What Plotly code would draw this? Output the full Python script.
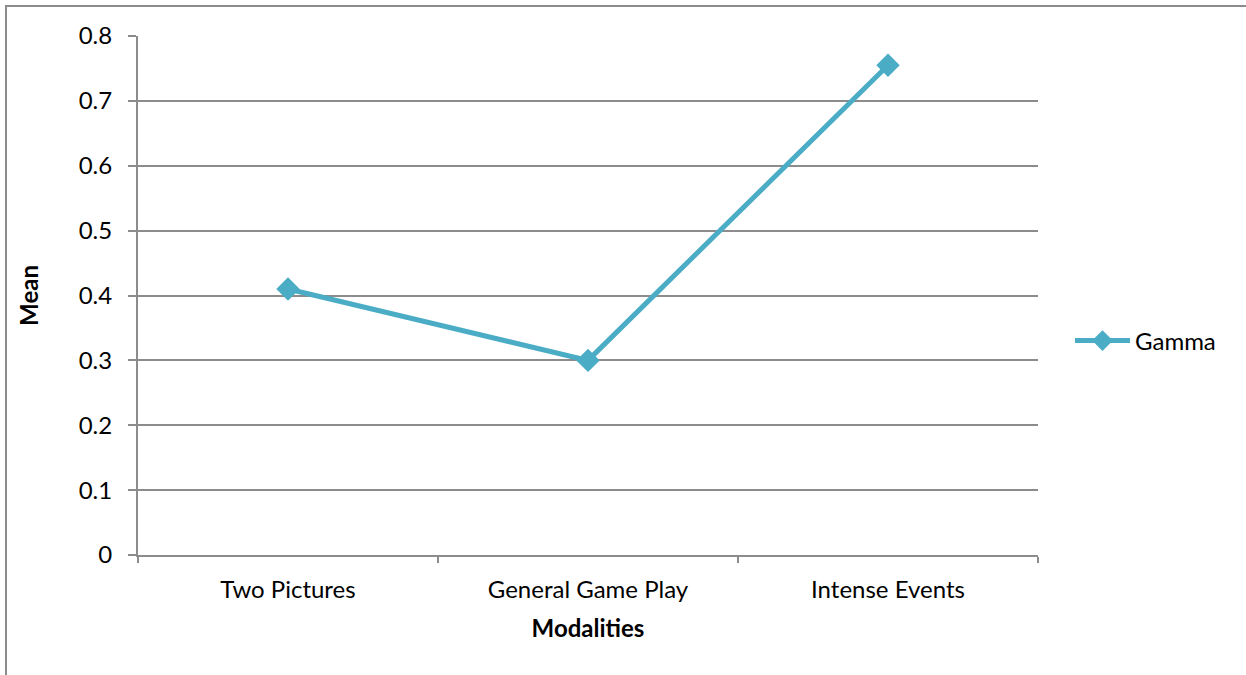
import plotly.graph_objects as go

categories = ["Two Pictures", "General Game Play", "Intense Events"]
gamma = [0.41, 0.30, 0.755]
y_ticks = [0, 0.1, 0.2, 0.3, 0.4, 0.5, 0.6, 0.7, 0.8]
y_labels = ["0", "0.1", "0.2", "0.3", "0.4", "0.5", "0.6", "0.7", "0.8"]

FONT = "Lato, 'Open Sans', sans-serif"
LINE = "#4BACC6"
GRID = "#8c8c8c"
FS = 24

fig = go.Figure()
fig.add_trace(go.Scatter(
    x=categories, y=gamma, name="Gamma", mode="lines+markers",
    line=dict(color=LINE, width=5),
    marker=dict(symbol="diamond", size=18, color=LINE),
))

W, H = 1246, 675
L, R, T, B = 138, 208, 36, 120
pw, ph = W - L - R, H - T - B

fig.update_layout(
    width=W, height=H,
    margin=dict(l=L, r=R, t=T, b=B, pad=0),
    paper_bgcolor="white", plot_bgcolor="white",
    font=dict(family=FONT, size=FS, color="black"),
    showlegend=True,
    legend=dict(x=(1070 - L) / pw, y=(555 - 341) / ph, xanchor="left", yanchor="middle",
                font=dict(size=FS), bgcolor="rgba(0,0,0,0)", itemwidth=55),
    xaxis=dict(
        type="category", range=[-0.5, 2.5], tickson="boundaries",
        showgrid=False, showline=True, linecolor=GRID, linewidth=2,
        ticks="outside", ticklen=6, tickcolor=GRID, tickwidth=2,
        ticklabelstandoff=12,
        title=dict(text="<b>Modalities</b>", font=dict(size=FS), standoff=18),
        tickfont=dict(size=FS),
    ),
    yaxis=dict(
        range=[0, 0.8], tickvals=y_ticks, ticktext=y_labels,
        showgrid=True, gridcolor=GRID, gridwidth=2,
        showline=True, linecolor=GRID, linewidth=2,
        ticks="outside", ticklen=8, tickcolor=GRID, tickwidth=2,
        ticklabelstandoff=11,
        zeroline=False,
        title=dict(text="<b>Mean</b>", font=dict(size=FS), standoff=33),
        tickfont=dict(size=FS),
    ),
    shapes=[dict(
        type="rect", xref="paper", yref="paper",
        x0=(6 - L) / pw, x1=(W + 10 - L) / pw,
        y0=-(H + 10 - (T + ph)) / ph, y1=1 + (T - 6) / ph,
        line=dict(color="#8c8c8c", width=2), fillcolor="rgba(0,0,0,0)", layer="below",
    )],
)

fig.write_html("out.html")
